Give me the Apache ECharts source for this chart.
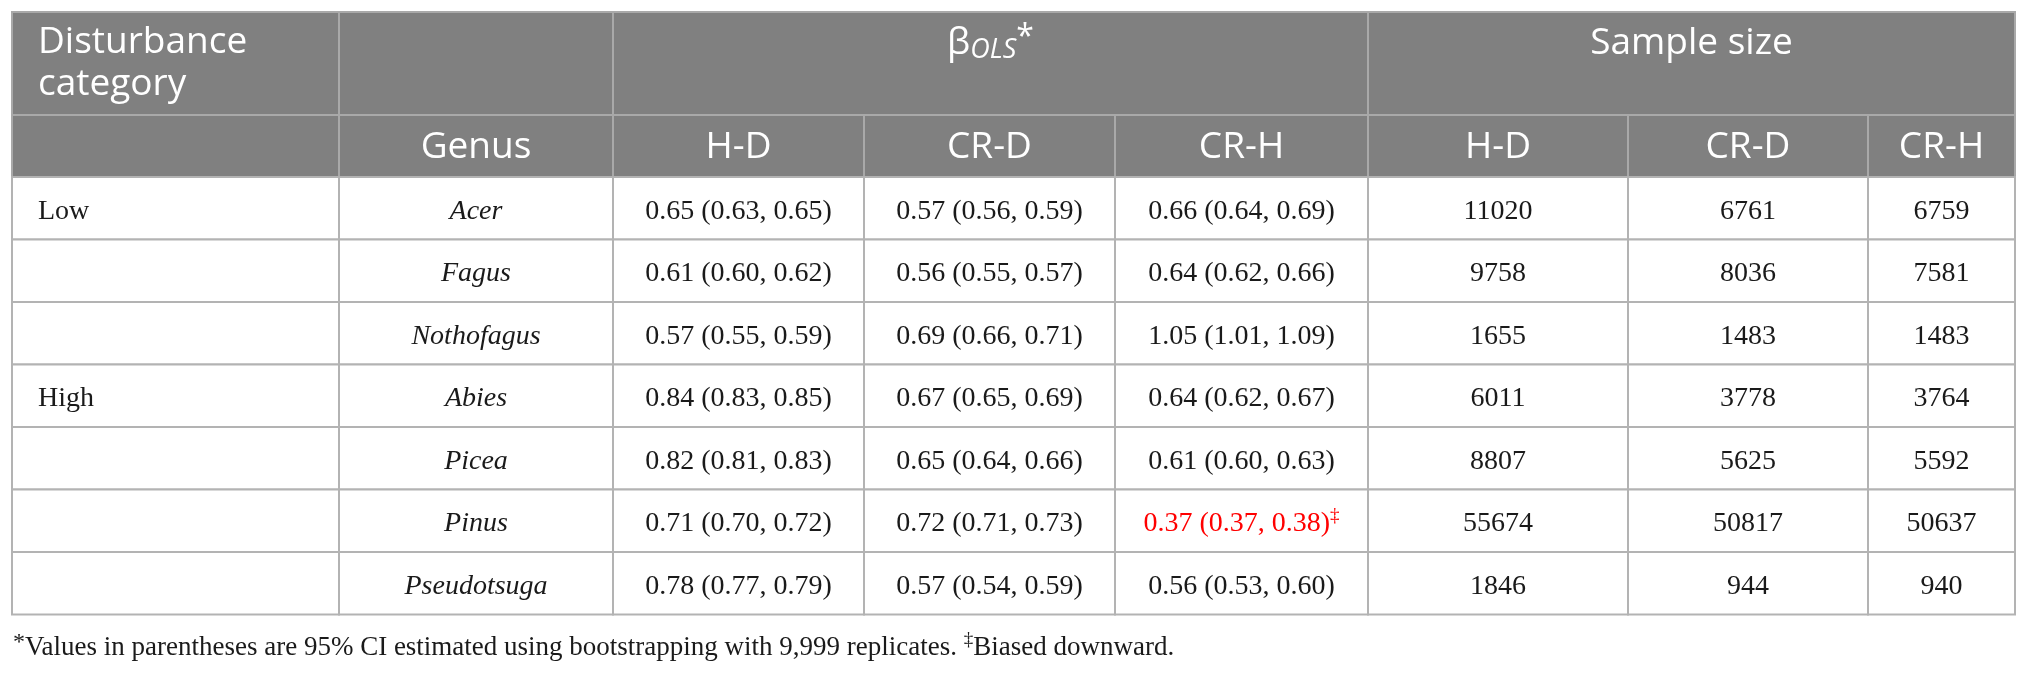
<!DOCTYPE html>
<html>
<head>
<meta charset="utf-8">
<script src="https://cdn.jsdelivr.net/npm/echarts@6/dist/echarts.min.js"></script>
<style>
  html, body { margin: 0; padding: 0; background: #ffffff; }
  #table { width: 2029px; height: 679px; }
</style>
</head>
<body>
<div id="table"></div>
<script>
// table data
var disturbance = ['Low', '', '', 'High', '', '', ''];
var genus = ['Acer', 'Fagus', 'Nothofagus', 'Abies', 'Picea', 'Pinus', 'Pseudotsuga'];
var pairs = ['H-D', 'CR-D', 'CR-H'];
// beta OLS: [estimate, ci low, ci high]
var betaHD = [[0.65, 0.63, 0.65], [0.61, 0.60, 0.62], [0.57, 0.55, 0.59], [0.84, 0.83, 0.85], [0.82, 0.81, 0.83], [0.71, 0.70, 0.72], [0.78, 0.77, 0.79]];
var betaCRD = [[0.57, 0.56, 0.59], [0.56, 0.55, 0.57], [0.69, 0.66, 0.71], [0.67, 0.65, 0.69], [0.65, 0.64, 0.66], [0.72, 0.71, 0.73], [0.57, 0.54, 0.59]];
var betaCRH = [[0.66, 0.64, 0.69], [0.64, 0.62, 0.66], [1.05, 1.01, 1.09], [0.64, 0.62, 0.67], [0.61, 0.60, 0.63], [0.37, 0.37, 0.38], [0.56, 0.53, 0.60]];
// sample sizes
var nHD = [11020, 9758, 1655, 6011, 8807, 55674, 1846];
var nCRD = [6761, 8036, 1483, 3778, 5625, 50817, 944];
var nCRH = [6759, 7581, 1483, 3764, 5592, 50637, 940];
var biasedRow = 5; // Pinus CR-H, biased downward

var footnote = '{star|*}Values in parentheses are 95% CI estimated using bootstrapping with 9,999 replicates. {sup|\u2021}Biased downward.';

// layout (table units = px inside grid)
var colEdges = [0, 327, 601, 852, 1103, 1356, 1616, 1856, 2003];
var headH = [103, 62];
var rowH = 62.5;
var tableH = headH[0] + headH[1] + rowH * genus.length;

function rowTop(i) {
    if (i === 0) return 0;
    if (i === 1) return headH[0];
    return headH[0] + headH[1] + (i - 2) * rowH;
}

function fmtBeta(v) {
    return v[0].toFixed(2) + ' (' + v[1].toFixed(2) + ', ' + v[2].toFixed(2) + ')';
}

// build cells
var cells = [];
function addCell(c0, c1, r0, r1, text, kind) {
    cells.push({ c0: c0, c1: c1, r0: r0, r1: r1, text: text, kind: kind });
}

// header row 1
addCell(0, 1, 0, 1, 'Disturbance\ncategory', 'headLeft');
addCell(1, 2, 0, 1, '', 'head');
addCell(2, 5, 0, 1, '{b|\u03b2}{sub|OLS}{sup|*}', 'headTop');
addCell(5, 8, 0, 1, 'Sample size', 'headTop');
// header row 2
addCell(0, 1, 1, 2, '', 'head');
addCell(1, 2, 1, 2, 'Genus', 'head');
for (var k = 0; k < 2; k++) {
    for (var p = 0; p < pairs.length; p++) {
        addCell(2 + k * 3 + p, 3 + k * 3 + p, 1, 2, pairs[p], 'head');
    }
}
// body
for (var i = 0; i < genus.length; i++) {
    var r = i + 2;
    addCell(0, 1, r, r + 1, disturbance[i], 'bodyLeft');
    addCell(1, 2, r, r + 1, genus[i], 'italic');
    addCell(2, 3, r, r + 1, fmtBeta(betaHD[i]), 'body');
    addCell(3, 4, r, r + 1, fmtBeta(betaCRD[i]), 'body');
    if (i === biasedRow) {
        addCell(4, 5, r, r + 1, '{red|' + fmtBeta(betaCRH[i]) + '}{redsup|\u2021}', 'body');
    } else {
        addCell(4, 5, r, r + 1, fmtBeta(betaCRH[i]), 'body');
    }
    addCell(5, 6, r, r + 1, String(nHD[i]), 'body');
    addCell(6, 7, r, r + 1, String(nCRD[i]), 'body');
    addCell(7, 8, r, r + 1, String(nCRH[i]), 'body');
}

var seriesData = cells.map(function (c, idx) {
    return [colEdges[c.c0], colEdges[c.c1], rowTop(c.r0), rowTop(c.r1), idx];
});

var headFont = '"Open Sans", "Noto Sans", sans-serif';
var bodyFont = '"Liberation Serif", "Times New Roman", serif';

function renderCell(params, api) {
    var c = cells[api.value(4)];
    var p0 = api.coord([api.value(0), api.value(2)]);
    var p1 = api.coord([api.value(1), api.value(3)]);
    var x = p0[0], y = p0[1], w = p1[0] - p0[0], h = p1[1] - p0[1];
    var isHead = c.kind.indexOf('head') === 0;
    var children = [{
        type: 'rect',
        shape: { x: x, y: y, width: w, height: h },
        style: { fill: isHead ? '#808080' : '#ffffff', stroke: isHead ? '#a9a9a9' : '#b3b3b3', lineWidth: 2 }
    }];
    if (c.text) {
        var st = {
            text: c.text,
            fill: isHead ? '#ffffff' : '#1a1a1a',
            fontFamily: isHead ? headFont : bodyFont,
            fontSize: isHead ? 37 : 28,
            align: 'center',
            verticalAlign: 'middle'
        };
        var tx = x + w / 2, ty = y + h / 2 + (isHead ? 1 : 3);
        if (c.kind === 'headLeft') {
            st.align = 'left';
            st.lineHeight = 42;
            tx = x + 26;
            ty = y + h / 2;
        } else if (c.kind === 'headTop') {
            st.verticalAlign = 'top';
            st.lineHeight = 42;
            ty = y + 10;
            st.rich = {
                b: { fontFamily: headFont, fontSize: 37, lineHeight: 42, fill: '#ffffff', verticalAlign: 'middle' },
                sub: { fontFamily: headFont, fontSize: 27, fontStyle: 'italic', lineHeight: 26, fill: '#ffffff', verticalAlign: 'bottom' },
                sup: { fontFamily: headFont, fontSize: 32, lineHeight: 24, fill: '#ffffff', verticalAlign: 'top' }
            };
        } else if (c.kind === 'bodyLeft') {
            st.align = 'left';
            tx = x + 26;
        } else if (c.kind === 'italic') {
            st.fontStyle = 'italic';
        } else {
            st.lineHeight = 34;
            st.rich = {
                red: { fontFamily: bodyFont, fontSize: 28, fill: '#ff0000', lineHeight: 34, verticalAlign: 'middle' },
                redsup: { fontFamily: bodyFont, fontSize: 19, fill: '#ff0000', lineHeight: 18, verticalAlign: 'top' }
            };
        }
        children.push({ type: 'text', x: tx, y: ty, style: st });
    }
    return { type: 'group', children: children };
}

var chart = echarts.init(document.getElementById('table'));
var option = {
    animation: false,
    grid: { left: 12, top: 12, width: colEdges[colEdges.length - 1], height: tableH },
    xAxis: { type: 'value', min: 0, max: colEdges[colEdges.length - 1], show: false },
    yAxis: { type: 'value', min: 0, max: tableH, inverse: true, show: false },
    series: [{
        type: 'custom',
        silent: true,
        clip: false,
        renderItem: renderCell,
        encode: { x: [0, 1], y: [2, 3] },
        data: seriesData
    }],
    graphic: [{
        type: 'text',
        left: 13,
        top: 631,
        silent: true,
        style: {
            text: footnote,
            fill: '#1a1a1a',
            fontFamily: bodyFont,
            fontSize: 27,
            lineHeight: 34,
            rich: {
                star: { fontFamily: bodyFont, fontSize: 24, lineHeight: 30, fill: '#1a1a1a', verticalAlign: 'top' },
                sup: { fontFamily: bodyFont, fontSize: 19, lineHeight: 18, fill: '#1a1a1a', verticalAlign: 'top' }
            }
        }
    }]
};
chart.setOption(option);
</script>
</body>
</html>
